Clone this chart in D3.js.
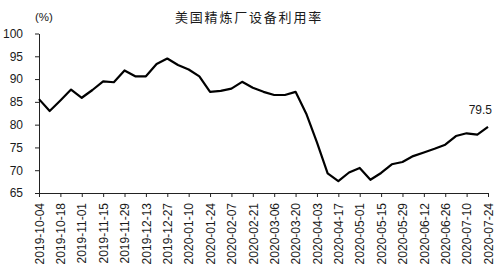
<!DOCTYPE html>
<html lang="zh">
<head>
  <meta charset="UTF-8">
  <title>美国精炼厂设备利用率</title>
  <script src="https://d3js.org/d3.v7.min.js"></script>
  <style>
    body { margin: 0; background: #fff; }
    svg text { font-family: "Liberation Sans", Arial, sans-serif; fill: #1a1a1a; }
  </style>
</head>
<body>
<svg></svg>
<script>
  // Wochenwerte, Freitag
  const dates = [
    "2019-10-04", "2019-10-11", "2019-10-18", "2019-10-25", "2019-11-01", "2019-11-08",
    "2019-11-15", "2019-11-22", "2019-11-29", "2019-12-06", "2019-12-13", "2019-12-20",
    "2019-12-27", "2020-01-03", "2020-01-10", "2020-01-17", "2020-01-24", "2020-01-31",
    "2020-02-07", "2020-02-14", "2020-02-21", "2020-02-28", "2020-03-06", "2020-03-13",
    "2020-03-20", "2020-03-27", "2020-04-03", "2020-04-10", "2020-04-17", "2020-04-24",
    "2020-05-01", "2020-05-08", "2020-05-15", "2020-05-22", "2020-05-29", "2020-06-05",
    "2020-06-12", "2020-06-19", "2020-06-26", "2020-07-03", "2020-07-10", "2020-07-17",
    "2020-07-24"
  ];
  const utilisation = [
    85.6, 83.0, 85.3, 87.7, 85.9, 87.6, 89.5, 89.3, 91.9, 90.6, 90.6, 93.3,
    94.5, 93.1, 92.1, 90.6, 87.2, 87.4, 87.9, 89.4, 88.1, 87.2, 86.5, 86.5,
    87.2, 82.4, 76.1, 69.3, 67.6, 69.5, 70.5, 67.9, 69.4, 71.3, 71.8, 73.1,
    73.9, 74.7, 75.6, 77.5, 78.1, 77.8, 79.5
  ];
  const xTickLabels = [
    "2019-10-04", "2019-10-18", "2019-11-01", "2019-11-15", "2019-11-29", "2019-12-13",
    "2019-12-27", "2020-01-10", "2020-01-24", "2020-02-07", "2020-02-21", "2020-03-06",
    "2020-03-20", "2020-04-03", "2020-04-17", "2020-05-01", "2020-05-15", "2020-05-29",
    "2020-06-12", "2020-06-26", "2020-07-10", "2020-07-24"
  ];
  const yTicks = [65, 70, 75, 80, 85, 90, 95, 100];
  const title = "美国精炼厂设备利用率";
  const unit = "(%)";
  const lastLabel = "79.5";

  const width = 498, height = 275;
  const parse = d3.timeParse("%Y-%m-%d");
  const data = dates.map((d, i) => ({ date: parse(d), value: utilisation[i] }));

  const svg = d3.select("svg")
    .attr("width", width)
    .attr("height", height);

  const x = d3.scaleTime()
    .domain(d3.extent(data, d => d.date))
    .range([39, 488]);

  const y = d3.scaleLinear()
    .domain([65, 100])
    .range([193, 33.5]);

  // Titel und Einheit
  svg.append("text")
    .attr("x", 249)
    .attr("y", 22)
    .attr("text-anchor", "middle")
    .style("font-family", "'Noto Sans CJK SC', sans-serif")
    .style("font-size", "13px")
    .style("letter-spacing", "1.8px")
    .text(title);

  svg.append("text")
    .attr("x", 35)
    .attr("y", 21)
    .style("font-size", "11.5px")
    .text(unit);

  // y-Achse
  const yAxis = svg.append("g")
    .attr("transform", "translate(39,0)")
    .call(d3.axisLeft(y).tickValues(yTicks).tickSize(4).tickPadding(12).tickSizeOuter(0));
  yAxis.selectAll("text").style("font-size", "12px").attr("fill", "#1a1a1a");

  // x-Achse
  const xAxis = svg.append("g")
    .attr("transform", "translate(0,193)")
    .call(d3.axisBottom(x)
      .tickValues(xTickLabels.map(parse))
      .tickFormat(d3.timeFormat("%Y-%m-%d"))
      .tickSize(4)
      .tickSizeOuter(0));
  xAxis.selectAll("text")
    .style("font-size", "12px")
    .attr("fill", "#1a1a1a")
    .attr("transform", "rotate(-90)")
    .attr("text-anchor", "end")
    .attr("x", -10)
    .attr("y", 0)
    .attr("dy", "0.35em");

  svg.selectAll(".domain, .tick line").attr("stroke", "#222").attr("stroke-width", 1);

  // Linie
  const line = d3.line()
    .x(d => x(d.date))
    .y(d => y(d.value));

  svg.append("path")
    .datum(data)
    .attr("fill", "none")
    .attr("stroke", "#000")
    .attr("stroke-width", 2.2)
    .attr("stroke-linejoin", "round")
    .attr("d", line);

  const last = data[data.length - 1];
  svg.append("text")
    .attr("x", x(last.date) + 4)
    .attr("y", y(last.value) - 13)
    .attr("text-anchor", "end")
    .style("font-size", "12px")
    .text(lastLabel);
</script>
</body>
</html>
